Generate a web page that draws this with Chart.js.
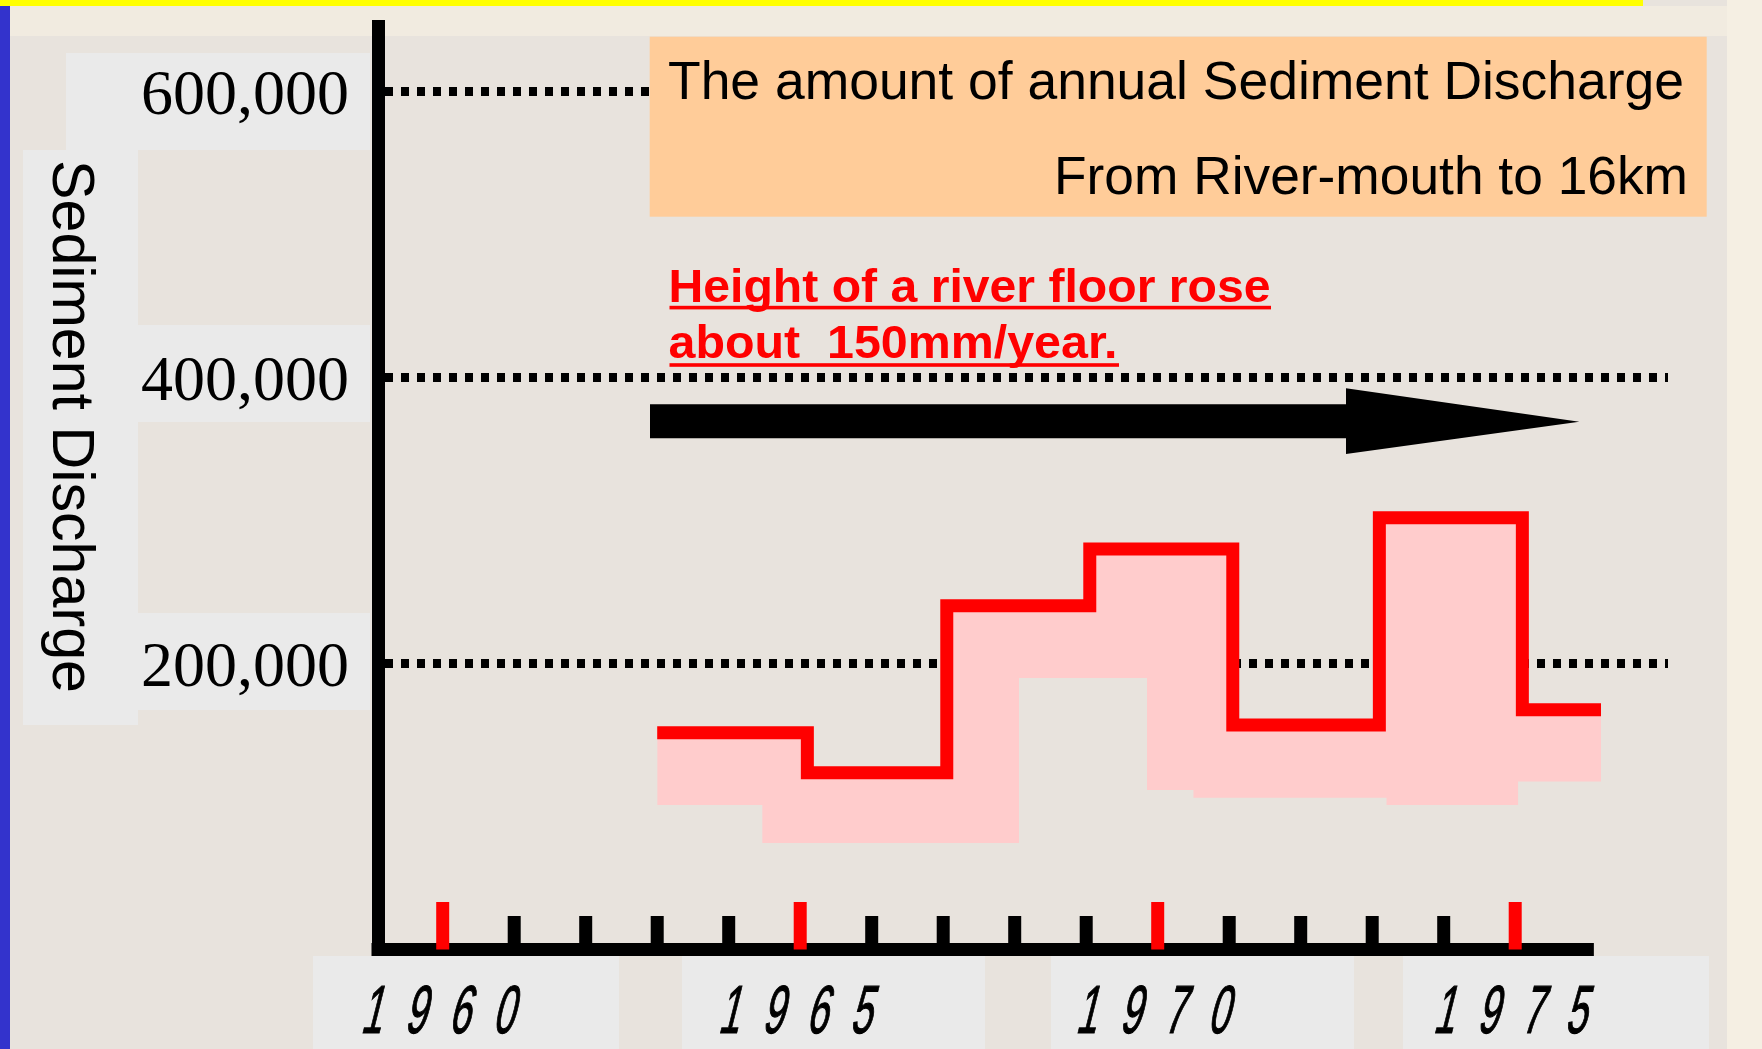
<!DOCTYPE html>
<html>
<head>
<meta charset="utf-8">
<script src="https://cdn.jsdelivr.net/npm/chart.js@4/dist/chart.umd.min.js"></script>
<style>
html,body{margin:0;padding:0;background:#E8E3DD;overflow:hidden}
#wrap{width:1762px;height:1049px;position:relative}
canvas{display:block}
</style>
</head>
<body>
<div id="wrap"><canvas id="c" width="1762" height="1049"></canvas></div>
<script>
// ---------------- data ----------------
const stepYears   = [1963.0, 1965.1, 1967.05, 1969.05, 1971.05, 1973.1, 1975.1, 1976.2];
const stepValues  = [151600, 123600, 240400, 280100, 157000, 302000, 167700, 167700];
const bandYears   = [1963.0, 1964.47, 1968.06, 1969.85, 1970.5, 1973.2, 1975.04, 1976.35];
const bandLow     = [101100, 74500, 189900, 111500, 106200, 101100, 117500, 117500];
const yTickValues = [200000, 400000, 600000];
const xTickYears  = [1960, 1961, 1962, 1963, 1964, 1965, 1966, 1967, 1968, 1969, 1970, 1971, 1972, 1973, 1974, 1975];
const xLabelYears = [1960, 1965, 1970, 1975];
const yAxisTitle  = 'Sediment Discharge';
const titleLine1  = 'The amount of annual Sediment Discharge';
const titleLine2  = 'From River-mouth to 16km';
const noteLine1   = 'Height of a river floor rose';
const noteLine2   = 'about  150mm/year.';

// ---------------- helpers ----------------
function fitText(ctx, text, x, y, w) {
  const m = ctx.measureText(text).width;
  ctx.save();
  ctx.translate(x, y);
  ctx.scale(w / m, 1);
  ctx.textAlign = 'left';
  ctx.fillText(text, 0, 0);
  ctx.restore();
}

const decor = {
  id: 'decor',
  beforeDraw(chart) {
    const ctx = chart.ctx;
    ctx.save();
    ctx.fillStyle = '#E8E3DD';
    ctx.fillRect(0, 0, 1762, 1049);
    ctx.fillStyle = '#F5EFE3';
    ctx.fillRect(1727, 0, 35, 1049);
    ctx.fillStyle = '#F1EBE0';
    ctx.fillRect(10, 6, 1717, 30);
    ctx.fillStyle = '#FFFF00';
    ctx.fillRect(0, 0, 1643, 6);
    ctx.fillStyle = '#3333CC';
    ctx.fillRect(0, 6, 10, 1043);
    // grey label panels
    ctx.fillStyle = '#EAEAEA';
    [[66,53,304,97],[23,150,115,575],[138,325,232,97],[138,613,232,97],
     [313,956,306,93],[682,956,303,93],[1051,956,303,93],[1403,956,306,93]]
      .forEach(r => ctx.fillRect(r[0], r[1], r[2], r[3]));
    ctx.restore();
  },
  afterDraw(chart) {
    const ctx = chart.ctx;
    const xs = chart.scales.x, ys = chart.scales.y;
    const axisY = ys.getPixelForValue(0);
    ctx.save();
    // x axis line
    ctx.fillStyle = '#000';
    ctx.fillRect(chart.chartArea.left - 6.5, axisY - 6.5, xs.getPixelForValue(1976.1) - chart.chartArea.left + 6.5, 13);
    // ticks
    xTickYears.forEach(yr => {
      const px = xs.getPixelForValue(yr);
      if (xLabelYears.includes(yr)) {
        ctx.fillStyle = '#FF0000';
        ctx.fillRect(px - 6.5, axisY - 47.5, 13, 47.5);
      } else {
        ctx.fillStyle = '#000';
        ctx.fillRect(px - 6.5, axisY - 33.5, 13, 28);
      }
    });
    // x labels (condensed italic digits)
    ctx.fillStyle = '#000';
    ctx.strokeStyle = '#000';
    ctx.lineWidth = 1.2;
    ctx.font = '68px "Liberation Sans", Arial, sans-serif';
    ctx.textAlign = 'center';
    ctx.textBaseline = 'alphabetic';
    xLabelYears.forEach(yr => {
      const c = xs.getPixelForValue(yr);
      const s = String(yr);
      for (let i = 0; i < s.length; i++) {
        const cx = c + (i - 1.5) * 44;
        ctx.save();
        ctx.translate(cx - 6, 1033);
        ctx.transform(0.56, 0, -0.25, 1, 0, 0);
        ctx.fillText(s[i], 0, 0);
        ctx.strokeText(s[i], 0, 0);
        ctx.restore();
      }
    });
    // title box
    ctx.fillStyle = '#FFCC99';
    ctx.fillRect(649.7, 36.7, 1057, 180);
    ctx.fillStyle = '#000';
    ctx.font = '53px "Liberation Sans", Arial, sans-serif';
    ctx.textBaseline = 'alphabetic';
    fitText(ctx, titleLine1, 668, 99, 1016);
    fitText(ctx, titleLine2, 1054, 194, 634);
    // red note
    ctx.fillStyle = '#FF0000';
    ctx.font = 'bold 47px "Liberation Sans", Arial, sans-serif';
    fitText(ctx, noteLine1, 668.5, 301.7, 602);
    fitText(ctx, noteLine2, 668.5, 358.3, 449);
    ctx.fillRect(669.5, 305.8, 601.5, 3.6);
    ctx.fillRect(669.5, 363.2, 449.5, 3.6);
    // arrow
    ctx.fillStyle = '#000';
    ctx.beginPath();
    ctx.moveTo(650, 404.3);
    ctx.lineTo(1346, 404.3);
    ctx.lineTo(1346, 388.3);
    ctx.lineTo(1579.3, 421.7);
    ctx.lineTo(1346, 454);
    ctx.lineTo(1346, 438.3);
    ctx.lineTo(650, 438.3);
    ctx.closePath();
    ctx.fill();
    // y axis title, reading top to bottom
    ctx.font = '60px "Liberation Sans", Arial, sans-serif';
    ctx.save();
    ctx.translate(52.7, 160);
    ctx.rotate(Math.PI / 2);
    fitText(ctx, yAxisTitle, 0, 0, 533);
    ctx.restore();
    ctx.restore();
  }
};

const chart = new Chart(document.getElementById('c'), {
  type: 'line',
  data: {
    datasets: [
      {
        label: 'Sediment discharge',
        data: stepYears.map((x, i) => ({x: x, y: stepValues[i]})),
        stepped: true,
        borderColor: '#FF0000',
        borderWidth: 13,
        borderJoinStyle: 'miter',
        borderCapStyle: 'butt',
        backgroundColor: '#FFCCCC',
        fill: 1,
        pointRadius: 0,
        pointHoverRadius: 0
      },
      {
        label: 'band',
        data: bandYears.map((x, i) => ({x: x, y: bandLow[i]})),
        stepped: true,
        borderWidth: 0,
        borderColor: 'rgba(0,0,0,0)',
        fill: false,
        pointRadius: 0,
        pointHoverRadius: 0
      }
    ]
  },
  options: {
    responsive: false,
    devicePixelRatio: 1,
    animation: false,
    events: [],
    layout: {padding: {top: 26.5, right: 94, bottom: 0, left: 0}},
    plugins: {legend: {display: false}, tooltip: {enabled: false}},
    scales: {
      x: {
        type: 'linear',
        min: 1959.095,
        max: 1977.137,
        ticks: {display: false},
        grid: {display: false},
        border: {display: false},
        afterFit: s => { s.height = 99.5; s.paddingLeft = 0; s.paddingRight = 0; }
      },
      y: {
        type: 'linear',
        min: 0,
        max: 645500,
        afterBuildTicks: s => { s.ticks = yTickValues.map(v => ({value: v})); },
        afterFit: s => { s.width = 378; s.paddingTop = 0; s.paddingBottom = 0; },
        ticks: {
          callback: v => Number(v).toLocaleString('en-US'),
          font: {family: '"Liberation Serif", "Times New Roman", serif', size: 64},
          color: '#000',
          padding: 29,
          labelOffset: 6
        },
        grid: {color: '#000', lineWidth: 9, drawTicks: false},
        border: {display: true, color: '#000', width: 13, dash: [8, 8], dashOffset: 0}
      }
    }
  },
  plugins: [decor]
});
</script>
</body>
</html>
